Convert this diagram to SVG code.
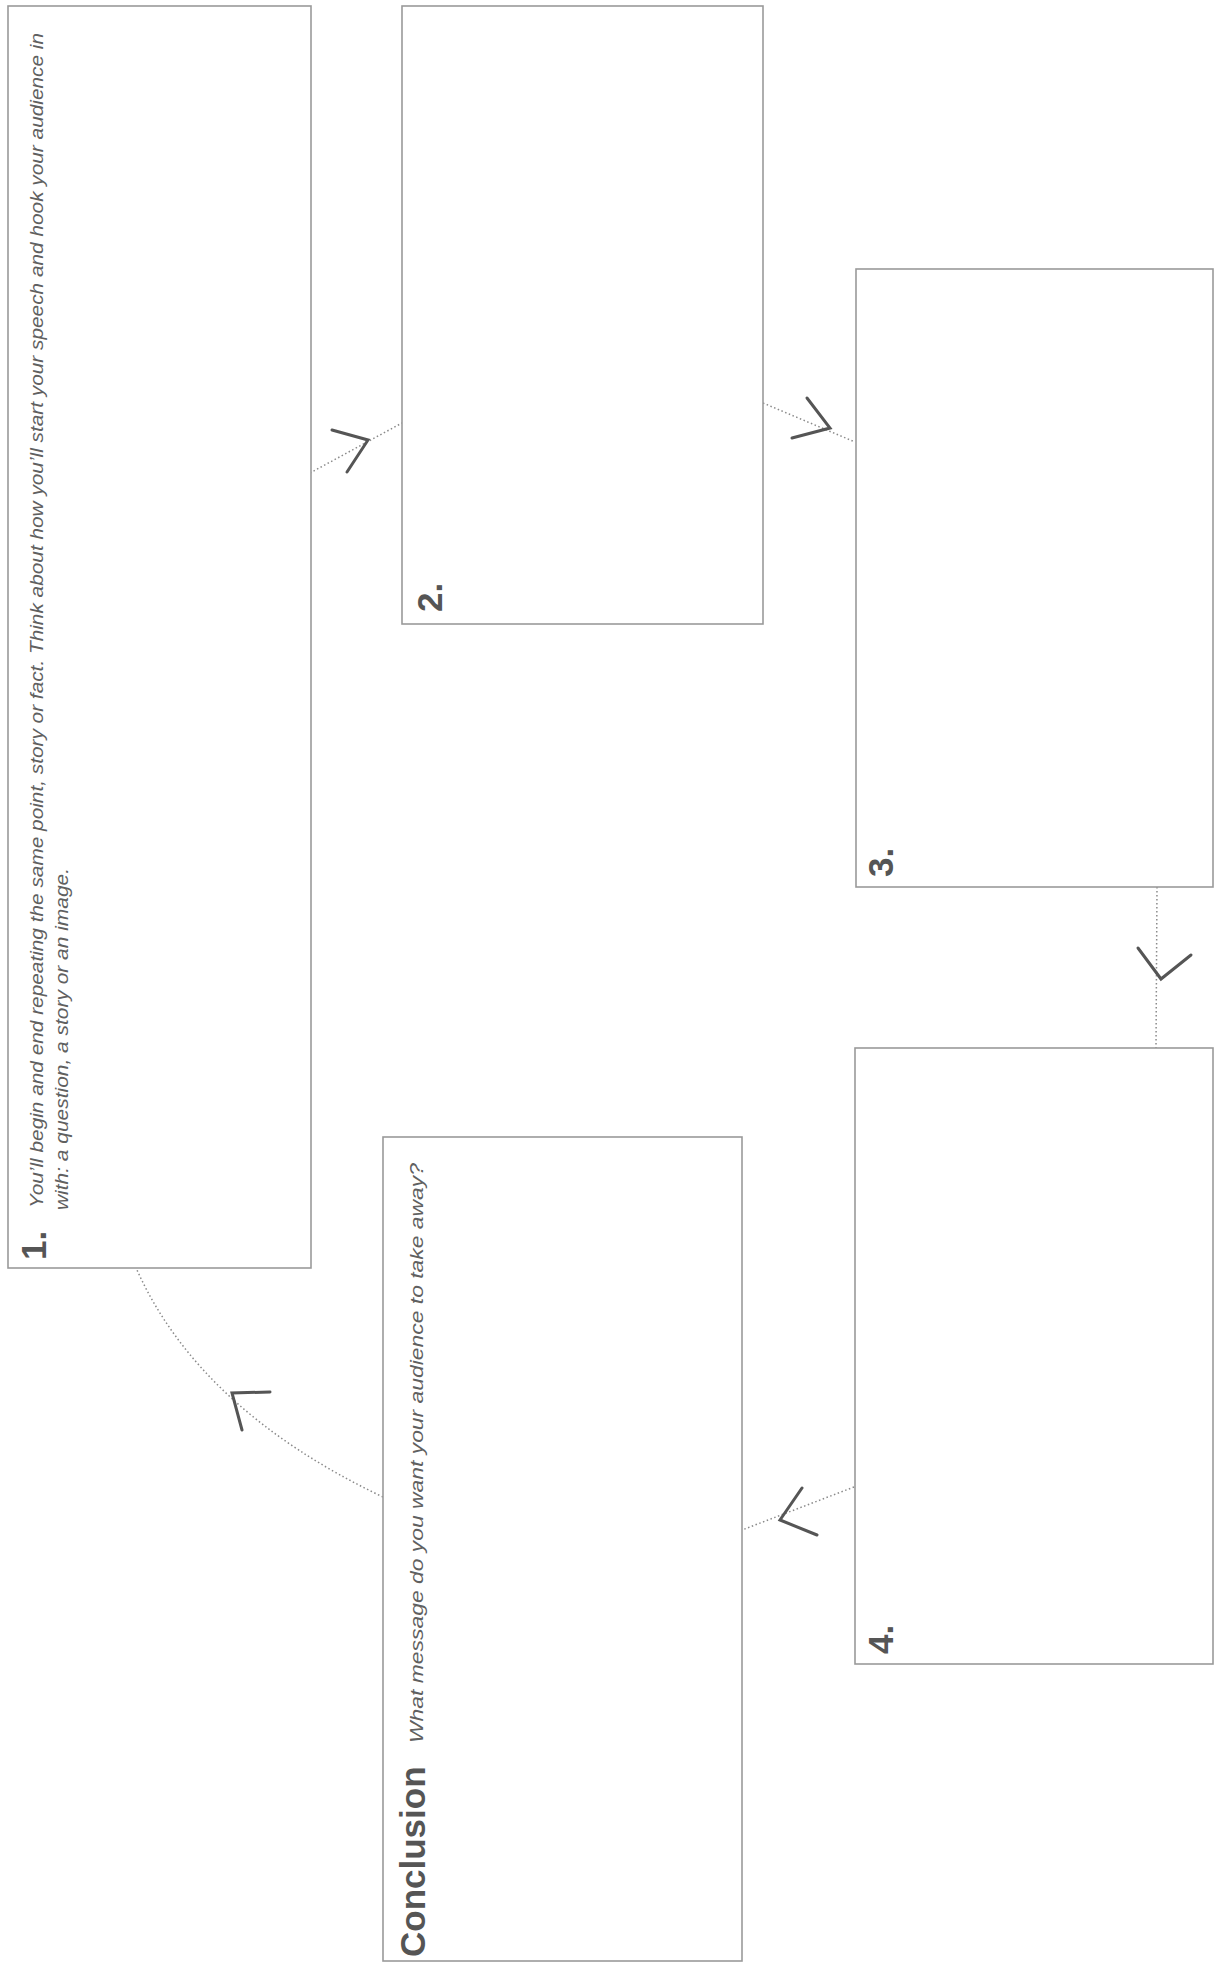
<svg xmlns="http://www.w3.org/2000/svg" width="1217" height="1965" viewBox="0 0 1217 1965">
<style>
.box{fill:#ffffff;stroke:#9a9a9a;stroke-width:1.6}
.num{font-family:"Liberation Sans",Arial,sans-serif;font-weight:bold;font-size:35px;fill:#555555}
.desc{font-family:"Liberation Sans",Arial,sans-serif;font-style:italic;font-size:19px;fill:#606060}
.dot{fill:none;stroke:#8a8a8a;stroke-width:1.5;stroke-dasharray:1.5 2.5}
.head{fill:none;stroke:#555555;stroke-width:3;stroke-linecap:round;stroke-linejoin:miter}
</style>
<rect x="0" y="0" width="1217" height="1965" fill="#ffffff"/>
<g id="connectors">
<line class="dot" x1="310" y1="473" x2="402" y2="423"/>
<polyline class="head" points="332,430 368,440 347,472"/>
<line class="dot" x1="763" y1="403" x2="855" y2="442"/>
<polyline class="head" points="807,398 830,428 792,438"/>
<line class="dot" x1="1157" y1="887" x2="1156" y2="1048"/>
<polyline class="head" points="1138,948 1161,979 1191,955"/>
<line class="dot" x1="854" y1="1487" x2="742" y2="1530"/>
<polyline class="head" points="802,1488 780,1520 817,1535"/>
<path class="dot" d="M383,1497 Q200,1410 137,1270"/>
<polyline class="head" points="270,1392 232,1393 242,1430"/>
</g>
<g id="node1">
<rect class="box" x="8" y="6" width="303" height="1262"/>
<text class="num" transform="translate(46,1260) rotate(-90)">1.</text>
<text class="desc" transform="translate(43,1208) rotate(-90)" textLength="1175" lengthAdjust="spacingAndGlyphs">You’ll begin and end repeating the same point, story or fact. Think about how you’ll start your speech and hook your audience in</text>
<text class="desc" transform="translate(68,1210) rotate(-90)" textLength="342" lengthAdjust="spacingAndGlyphs">with: a question, a story or an image.</text>
</g>
<g id="node2">
<rect class="box" x="402" y="6" width="361" height="618"/>
<text class="num" transform="translate(442,612) rotate(-90)">2.</text>
</g>
<g id="node3">
<rect class="box" x="856" y="269" width="357" height="618"/>
<text class="num" transform="translate(893,877) rotate(-90)">3.</text>
</g>
<g id="node4">
<rect class="box" x="855" y="1048" width="358" height="616"/>
<text class="num" transform="translate(893,1654) rotate(-90)">4.</text>
</g>
<g id="conclusion">
<rect class="box" x="383" y="1137" width="359" height="824"/>
<text class="num" transform="translate(425,1957) rotate(-90)" font-size="37">Conclusion</text>
<text class="desc" transform="translate(423,1743) rotate(-90)" textLength="580" lengthAdjust="spacingAndGlyphs">What message do you want your audience to take away?</text>
</g>
</svg>
